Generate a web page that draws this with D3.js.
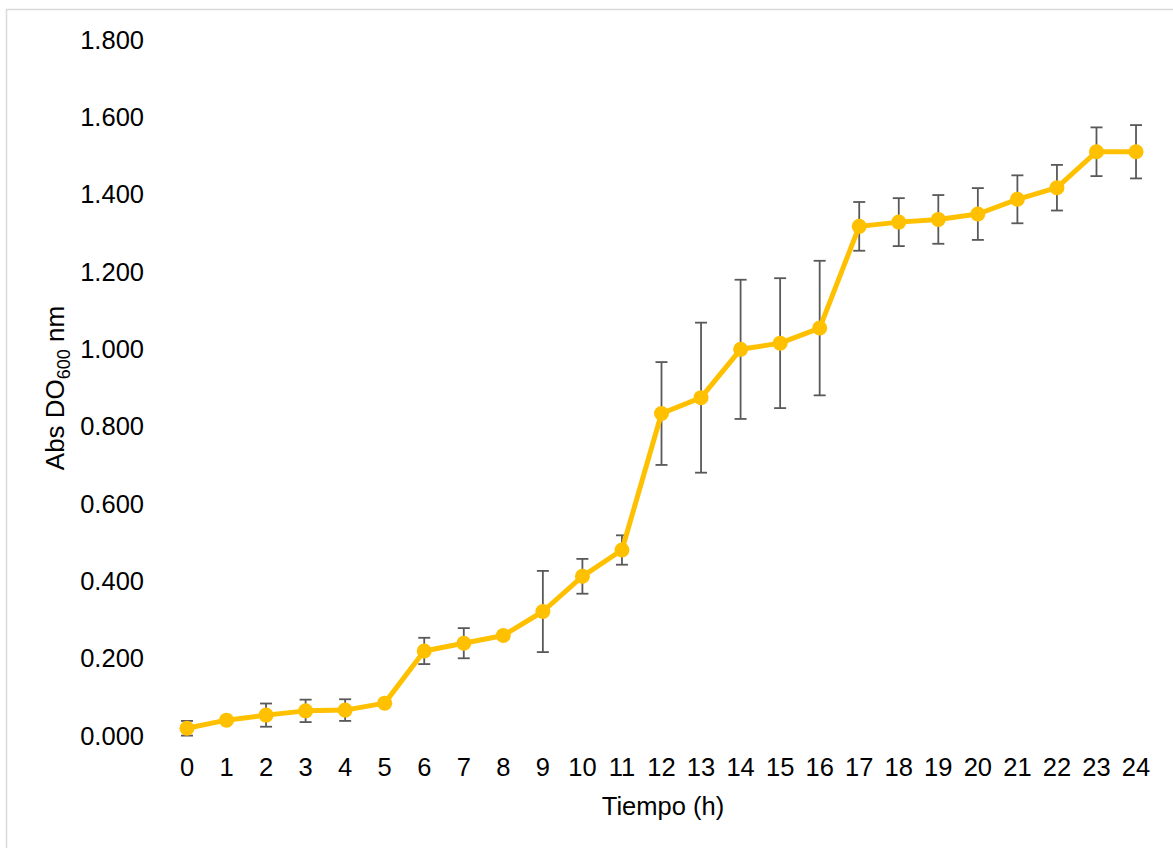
<!DOCTYPE html>
<html>
<head>
<meta charset="utf-8">
<script src="https://cdn.jsdelivr.net/npm/d3@7"></script>
<style>
  html, body { margin: 0; padding: 0; background: #fff; }
  svg { display: block; font-family: "Liberation Sans", Arial, sans-serif; }
</style>
</head>
<body>
<svg id="chart" width="1173" height="848"></svg>
<script>
const categories = ["0","1","2","3","4","5","6","7","8","9","10","11","12","13","14","15","16","17","18","19","20","21","22","23","24"];
const values = [0.020, 0.041, 0.054, 0.065, 0.067, 0.085, 0.220, 0.240, 0.260, 0.322, 0.413, 0.481, 0.834, 0.875, 1.000, 1.016, 1.055, 1.318, 1.329, 1.336, 1.350, 1.388, 1.418, 1.511, 1.511];
const errors = [0.019, 0.006, 0.030, 0.029, 0.028, 0.008, 0.034, 0.039, 0.008, 0.105, 0.045, 0.038, 0.133, 0.194, 0.180, 0.168, 0.174, 0.063, 0.062, 0.063, 0.067, 0.062, 0.059, 0.063, 0.069];
const yTicks = [0, 0.2, 0.4, 0.6, 0.8, 1.0, 1.2, 1.4, 1.6, 1.8];
const xTitle = "Tiempo (h)";

const svg = d3.select("#chart");
const FS = 25.5;

// outer border
svg.append("rect")
  .attr("x", 6.5).attr("y", 9.5)
  .attr("width", 1180).attr("height", 860)
  .attr("fill", "none").attr("stroke", "#d9d9d9").attr("stroke-width", 1.5);

const x = d3.scaleBand().domain(categories).range([167.2, 1155.8]).paddingInner(0).paddingOuter(0);
const y = d3.scaleLinear().domain([0, 1.8]).range([736, 40]);
const cx = d => x(d) + x.bandwidth() / 2;

// y axis
const fmt = v => v.toFixed(3);
const yAxis = d3.axisLeft(y).tickValues(yTicks).tickFormat(fmt).tickSize(0).tickPadding(0);
const yg = svg.append("g").attr("transform", "translate(144,0)").call(yAxis);
yg.select(".domain").remove();
yg.selectAll("text").attr("font-size", FS).attr("fill", "#000").attr("font-family", "Liberation Sans, Arial, sans-serif");

// x axis
const xAxis = d3.axisBottom(x).tickSize(0).tickPadding(0);
const xg = svg.append("g").attr("transform", "translate(0,776)").call(xAxis);
xg.select(".domain").remove();
xg.selectAll("text").attr("font-size", FS).attr("fill", "#000").attr("dy", 0).attr("y", 0).attr("font-family", "Liberation Sans, Arial, sans-serif");

// axis titles
svg.append("text")
  .attr("x", 663).attr("y", 815)
  .attr("text-anchor", "middle").attr("font-size", FS).attr("fill", "#000")
  .text(xTitle);

const yt = svg.append("text")
  .attr("transform", "translate(64,388) rotate(-90)")
  .attr("text-anchor", "middle").attr("font-size", 26).attr("fill", "#000");
yt.append("tspan").text("Abs DO");
yt.append("tspan").attr("font-size", 18).attr("dy", 6).text("600");
yt.append("tspan").attr("dy", -6).text(" nm");

// error bars
const eg = svg.append("g").attr("stroke", "#595959").attr("stroke-width", 1.8).attr("fill", "none");
categories.forEach((c, i) => {
  const xc = cx(c), top = y(values[i] + errors[i]), bot = y(values[i] - errors[i]);
  eg.append("line").attr("x1", xc).attr("x2", xc).attr("y1", top).attr("y2", bot);
  eg.append("line").attr("x1", xc - 6).attr("x2", xc + 6).attr("y1", top).attr("y2", top);
  eg.append("line").attr("x1", xc - 6).attr("x2", xc + 6).attr("y1", bot).attr("y2", bot);
});

// line
const line = d3.line().x((d, i) => cx(categories[i])).y(d => y(d));
svg.append("path").datum(values)
  .attr("d", line)
  .attr("fill", "none").attr("stroke", "#FFC000").attr("stroke-width", 5).attr("stroke-linejoin", "round");

// markers
svg.append("g").selectAll("circle").data(values).join("circle")
  .attr("cx", (d, i) => cx(categories[i])).attr("cy", d => y(d))
  .attr("r", 7.5).attr("fill", "#FFC000");
</script>
</body>
</html>
